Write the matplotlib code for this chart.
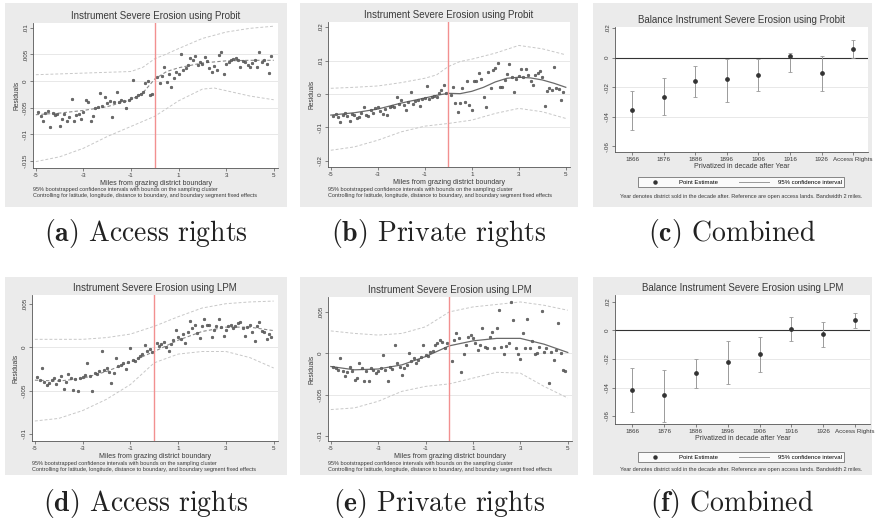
import matplotlib
matplotlib.use("Agg")
import matplotlib.pyplot as plt
from matplotlib.lines import Line2D

plt.rcParams['font.family'] = ['Liberation Sans', 'DejaVu Sans']
plt.rcParams['mathtext.fontset'] = 'cm'

W, H = 877, 526

# ---------------- data ----------------
bin_x = [-4.9, -4.8, -4.7, -4.6, -4.5, -4.4, -4.3, -4.2, -4.1, -4.0, -3.9, -3.8, -3.7, -3.6, -3.5,
         -3.4, -3.3, -3.2, -3.1, -3.0, -2.9, -2.8, -2.7, -2.6, -2.5, -2.4, -2.3, -2.2, -2.1, -2.0,
         -1.9, -1.8, -1.7, -1.6, -1.5, -1.4, -1.3, -1.2, -1.1, -1.0, -0.9, -0.8, -0.7, -0.6, -0.5,
         -0.4, -0.3, -0.2, -0.1, 0.1, 0.2, 0.3, 0.4, 0.5, 0.6, 0.7, 0.8, 0.9, 1.0, 1.1, 1.2, 1.3,
         1.4, 1.5, 1.6, 1.7, 1.8, 1.9, 2.0, 2.1, 2.2, 2.3, 2.4, 2.5, 2.6, 2.7, 2.8, 2.9, 3.0, 3.1,
         3.2, 3.3, 3.4, 3.5, 3.6, 3.7, 3.8, 3.9, 4.0, 4.1, 4.2, 4.3, 4.4, 4.5, 4.6, 4.7, 4.8, 4.9]

a_y = [-0.0058, -0.0066, -0.0075, -0.0059, -0.0056, -0.0087, -0.0060, -0.0064, -0.0061, -0.0085,
       -0.0071, -0.0062, -0.0075, -0.0068, -0.0034, -0.0075, -0.0064, -0.0061, -0.0072, -0.0058,
       -0.0036, -0.0040, -0.0075, -0.0066, -0.0050, -0.0048, -0.0022, -0.0047, -0.0030, -0.0042,
       -0.0038, -0.0068, -0.0040, -0.0020, -0.0040, -0.0036, -0.0037, -0.0050, -0.0035, -0.0032,
       0.0002, -0.0030, -0.0026, -0.0024, -0.0020, -0.0003, 0.0001, -0.0026, -0.0025,
       0.0008, -0.0003, 0.0010, 0.0027, -0.0002, 0.0013, -0.0011, 0.0006, 0.0018, 0.0014,
       0.0051, 0.0020, 0.0024, 0.0030, 0.0044, 0.0040, 0.0047, 0.0030, 0.0036, 0.0033,
       0.0045, 0.0038, 0.0025, 0.0018, 0.0029, 0.0020, 0.0049, 0.0054, 0.0014, 0.0033,
       0.0036, 0.0040, 0.0041, 0.0043, 0.0039, 0.0027, 0.0037, 0.0036, 0.0031, 0.0026,
       0.0034, 0.0039, 0.0027, 0.0054, 0.0035, 0.0040, 0.0032, 0.0016, 0.0048]
a_fit_x = [-5, -4, -3, -2, -1, -0.5, 0, 0.5, 1, 2, 3, 4, 5]
a_fit = [-0.0063, -0.0060, -0.0055, -0.0048, -0.0035, -0.0022, 0.0004, 0.0018, 0.0025, 0.0034, 0.0038, 0.0039, 0.0039]
a_up_x = [-5, -3, -1, -0.5, 0, 0.5, 1, 2, 3, 4, 5]
a_up = [0.0012, 0.0015, 0.0018, 0.0026, 0.0042, 0.0051, 0.0061, 0.0080, 0.0092, 0.0099, 0.0103]
a_lo_x = [-5, -4, -3, -2, -1, 0, 1, 2, 2.5, 3, 4, 5]
a_lo = [-0.0151, -0.0142, -0.0126, -0.0104, -0.0085, -0.0066, -0.0037, -0.0015, -0.0013, -0.0018, -0.0028, -0.0035]

b_y = [-0.0065, -0.0060, -0.0068, -0.0083, -0.0062, -0.0057, -0.0066, -0.0080, -0.0060, -0.0064,
       -0.0071, -0.0068, -0.0058, -0.0038, -0.0062, -0.0066, -0.0048, -0.0056, -0.0042, -0.0040,
       -0.0052, -0.0061, -0.0045, -0.0063, -0.0040, -0.0035, -0.0038, -0.0008, -0.0030, -0.0018,
       -0.0032, -0.0048, -0.0025, 0.0007, -0.0030, -0.0022, -0.0018, -0.0035, -0.0015, -0.0012,
       0.0024, -0.0016, -0.0010, -0.0005, -0.0008, 0.0003, 0.0012, 0.0027, 0.0002,
       -0.0002, 0.0020, -0.0028, -0.0053, -0.0028, 0.0017, -0.0025, 0.0039, -0.0033, -0.0048,
       0.0039, 0.0040, 0.0062, 0.0045, -0.0010, -0.0038, 0.0067, 0.0017, 0.0072, 0.0077,
       0.0092, 0.0021, 0.0020, 0.0042, 0.0060, 0.0090, 0.0050, 0.0007, 0.0045, 0.0055,
       0.0075, 0.0052, 0.0075, 0.0058, 0.0040, 0.0027, 0.0056, 0.0062, 0.0070, 0.0052,
       -0.0036, 0.0010, 0.0017, 0.0012, 0.0082, 0.0019, 0.0015, -0.0018, 0.0007]
b_fit_x = [-5, -4, -3, -2, -1, -0.5, 0, 0.5, 1, 1.5, 2, 2.5, 3, 3.5, 4, 4.5, 5]
b_fit = [-0.0063, -0.0056, -0.0045, -0.0027, -0.0012, -0.0004, 0.0002, 0.0001, 0.0008, 0.0020,
         0.0036, 0.0047, 0.0050, 0.0048, 0.0042, 0.0032, 0.0020]
b_up_x = [-5, -4, -3, -2, -1, -0.5, 0, 0.5, 1, 2, 3, 4, 5]
b_up = [0.0017, 0.0020, 0.0024, 0.0034, 0.0047, 0.0057, 0.0082, 0.0097, 0.0104, 0.0122, 0.0145, 0.0135, 0.0117]
b_lo_x = [-5, -4, -3, -2, -1, 0, 1, 2, 3, 4, 5]
b_lo = [-0.0168, -0.0158, -0.0138, -0.0113, -0.0096, -0.0088, -0.0078, -0.0058, -0.0043, -0.0053, -0.0073]

d_y = [-0.0034, -0.0038, -0.0024, -0.0040, -0.0043, -0.0041, -0.0038, -0.0036, -0.0042, -0.0038,
       -0.0033, -0.0048, -0.0040, -0.0031, -0.0036, -0.0049, -0.0037, -0.0050, -0.0035, -0.0034,
       -0.0032, -0.0018, -0.0033, -0.0050, -0.0030, -0.0031, -0.0028, -0.0005, -0.0026, -0.0024,
       -0.0029, -0.0041, -0.0030, -0.0012, -0.0022, -0.0020, -0.0018, -0.0025, -0.0017, -0.0001,
       -0.0015, -0.0016, -0.0012, -0.0010, -0.0008, 0.0003, -0.0004, -0.0002, -0.0006,
       0.0005, 0.0001, 0.0004, 0.0006, 0.0000, -0.0005, 0.0004, 0.0008, 0.0020, 0.0012,
       0.0009, 0.0015, 0.0005, 0.0018, 0.0030, 0.0022, 0.0026, 0.0016, 0.0011, 0.0024,
       0.0032, 0.0025, 0.0026, 0.0012, 0.0020, 0.0024, 0.0032, 0.0023, 0.0013, 0.0020,
       0.0024, 0.0026, 0.0022, 0.0024, 0.0028, 0.0029, 0.0022, 0.0013, 0.0023, 0.0026,
       0.0018, 0.0007, 0.0024, 0.0029, 0.0019, 0.0018, 0.0009, 0.0015, 0.0012]
d_fit_x = [-5, -4, -3, -2, -1, 0, 1, 2, 3, 4, 5]
d_fit = [-0.0038, -0.0039, -0.0036, -0.0028, -0.0017, -0.0005, 0.0008, 0.0018, 0.0023, 0.0023, 0.0019]
d_up_x = [-5, -3, -2, -1, 0, 1, 2, 3, 4, 5]
d_up = [0.0009, 0.0009, 0.0011, 0.0015, 0.0024, 0.0035, 0.0045, 0.0050, 0.0052, 0.0053]
d_lo_x = [-5, -4, -3, -2, -1, 0, 1, 2, 3, 4, 5]
d_lo = [-0.0085, -0.0082, -0.0073, -0.0060, -0.0043, -0.0018, -0.0008, -0.0005, -0.0005, -0.0012, -0.0024]

e_y = [-0.0016, -0.0018, -0.0020, -0.0006, -0.0022, -0.0028, -0.0023, -0.0016, -0.0022, -0.0032,
       -0.0030, -0.0012, -0.0018, -0.0034, -0.0022, -0.0034, -0.0018, -0.0020, -0.0024, -0.0021,
       -0.0018, -0.0002, -0.0020, -0.0034, -0.0017, -0.0019, 0.0010, -0.0012, -0.0016, -0.0026,
       -0.0018, -0.0014, 0.0000, -0.0009, -0.0006, -0.0012, -0.0008, -0.0005, 0.0010, -0.0002,
       -0.0003, 0.0002, 0.0003, 0.0010, 0.0012, 0.0016, 0.0014, 0.0006, 0.0013,
       -0.0009, 0.0016, 0.0024, 0.0018, -0.0023, -0.0001, 0.0010, 0.0020, 0.0022,
       0.0018, 0.0012, 0.0004, 0.0010, 0.0031, 0.0008, 0.0006, 0.0020,
       0.0026, 0.0006, 0.0031, 0.0052, 0.0008, -0.0001, 0.0009, 0.0012,
       0.0062, 0.0040, 0.0006, -0.0001, -0.0007, 0.0024, 0.0006, 0.0041, 0.0006, 0.0015,
       -0.0001, 0.0000, 0.0008, 0.0051, 0.0002, 0.0006, -0.0036, 0.0002, -0.0008, 0.0004,
       0.0037, 0.0000, -0.0020, -0.0022]
e_fit_x = [-5, -4, -3, -2, -1, 0, 1, 2, 3, 4, 5]
e_fit = [-0.0016, -0.0020, -0.0019, -0.0014, -0.0004, 0.0009, 0.0015, 0.0018, 0.0018, 0.0011, 0.0001]
e_up_x = [-5, -4, -3, -2, -1, 0, 1, 2, 3, 4, 5]
e_up = [0.0027, 0.0024, 0.0022, 0.0024, 0.0032, 0.0050, 0.0056, 0.0059, 0.0062, 0.0058, 0.0052]
e_lo_x = [-5, -4, -3, -2, -1, 0, 1, 2, 3, 4, 5]
e_lo = [-0.0068, -0.0066, -0.0058, -0.0046, -0.0040, -0.0037, -0.0030, -0.0023, -0.0024, -0.0040, -0.0054]

decade_labels = ["1866", "1876", "1886", "1896", "1906", "1916", "1926", "Access Rights"]
c_est = [-0.0355, -0.0265, -0.0160, -0.0148, -0.0115, 0.0010, -0.0108, 0.0060]
c_lo = [-0.0490, -0.0390, -0.0265, -0.0300, -0.0230, -0.0097, -0.0230, 0.0000]
c_hi = [-0.0225, -0.0140, -0.0060, -0.0007, -0.0007, 0.0030, 0.0010, 0.0117]
f_est = [-0.0420, -0.0455, -0.0300, -0.0223, -0.0166, 0.0007, -0.0028, 0.0076]
f_lo = [-0.0575, -0.0639, -0.0400, -0.0375, -0.0290, -0.0076, -0.0115, 0.0016]
f_hi = [-0.0264, -0.0276, -0.0200, -0.0076, -0.0046, 0.0092, 0.0057, 0.0120]

rd_xticks = [-5, -3, -1, 1, 3, 5]
rd_xticklabels = ["-5", "-3", "-1", "1", "3", "5"]
a_yticks = [0.01, 0.005, 0, -0.005, -0.01, -0.015]
a_yticklabels = [".01", ".005", "0", "-.005", "-.01", "-.015"]
b_yticks = [0.02, 0.01, 0, -0.01, -0.02]
b_yticklabels = [".02", ".01", "0", "-.01", "-.02"]
de_yticks = [0.005, 0, -0.005, -0.01]
de_yticklabels = [".005", "0", "-.005", "-.01"]
cf_yticks = [0.02, 0, -0.02, -0.04, -0.06]
cf_yticklabels = [".02", "0", "-.02", "-.04", "-.06"]

title_probit = "Instrument Severe Erosion using Probit"
title_lpm = "Instrument Severe Erosion using LPM"
rd_xlabel = "Miles from grazing district boundary"
rd_note1 = "95% bootstrapped confidence intervals with bounds on the sampling cluster"
rd_note2 = "Controlling for latitude, longitude, distance to boundary, and boundary segment fixed effects"
cf_xlabel = "Privatized in decade after Year"
cf_note = "Year denotes district sold in the decade after. Reference are open access lands. Bandwidth 2 miles."
captions = [r"$\mathbf{(a)}$ Access rights", r"$\mathbf{(b)}$ Private rights", r"$\mathbf{(c)}$ Combined",
            r"$\mathbf{(d)}$ Access rights", r"$\mathbf{(e)}$ Private rights", r"$\mathbf{(f)}$ Combined"]

# ---------------- layout helpers ----------------
fig = plt.figure(figsize=(W / 100, H / 100), dpi=100)
fig.patch.set_facecolor('white')


def fbox(x0, y0, x1, y1):
    return [x0 / W, 1 - y1 / H, (x1 - x0) / W, (y1 - y0) / H]


def panel_bg(x0, y0, x1, y1):
    bg = fig.add_axes(fbox(x0, y0, x1, y1), zorder=-5)
    bg.set_facecolor('#ebebeb')
    bg.set_xticks([])
    bg.set_yticks([])
    for s in bg.spines.values():
        s.set_visible(False)


TXT = '#3a3a3a'
GRID = '#e4e4e4'
NOTE_FS = 4.0


def style_axes(ax, yticks, ylabels, title):
    ax.set_facecolor('white')
    for s in ['top', 'right']:
        ax.spines[s].set_visible(False)
    for s in ['left', 'bottom']:
        ax.spines[s].set_color('#555555')
        ax.spines[s].set_linewidth(0.6)
    ax.set_yticks(yticks)
    ax.set_yticklabels(ylabels, rotation=90, va='center', fontsize=4.5, color=TXT)
    ax.tick_params(axis='both', length=2, width=0.5, color='#555555', pad=1.5)
    ax.tick_params(axis='x', labelsize=4.5, labelcolor=TXT)
    for t in yticks[1:-1]:
        ax.axhline(t, color=GRID, lw=0.6, zorder=0)
    ax.set_title(title, fontsize=7, color=TXT, pad=3)


def rd_panel(box, bg, ys, fx, fy, ux, uy, lx, ly, ylim, yticks, ylabels, title, fitstyle):
    panel_bg(*bg)
    ax = fig.add_axes(fbox(*box))
    style_axes(ax, yticks, ylabels, title)
    ax.set_xlim(-5.12, 5.18)
    ax.set_ylim(*ylim)
    ax.set_xticks(rd_xticks)
    ax.set_xticklabels(rd_xticklabels)
    ax.plot(ux, uy, color='#c8c8c8', lw=0.7, ls=(0, (3, 2)), zorder=2)
    ax.plot(lx, ly, color='#c8c8c8', lw=0.7, ls=(0, (3, 2)), zorder=2)
    if fitstyle == 'dash':
        ax.plot(fx, fy, color='#8a8a8a', lw=0.8, ls=(0, (3, 2)), zorder=3)
    else:
        ax.plot(fx, fy, color='#6a6a6a', lw=0.9, zorder=3)
    ax.scatter(bin_x, ys, s=4, facecolor='#6a6a6a', edgecolor='#444444', linewidth=0.3, zorder=4)
    ax.axvline(0, color='#f29090', lw=1.0, zorder=5)
    ax.set_xlabel(rd_xlabel, fontsize=5, color=TXT, labelpad=1.2)
    ax.set_ylabel("Residuals", fontsize=4.8, color=TXT, labelpad=2)
    return ax


def coef_panel(box, bg, est, lo, hi, ylim, legend_y, note_y, title):
    panel_bg(*bg)
    ax = fig.add_axes(fbox(*box))
    style_axes(ax, cf_yticks, cf_yticklabels, title)
    pos = list(range(len(decade_labels)))
    ax.set_xlim(-0.54, 7.47)
    ax.set_ylim(*ylim)
    ax.set_xticks(pos)
    ax.set_xticklabels(decade_labels, fontsize=4.5)
    ax.axhline(0, color='#333333', lw=0.8, zorder=2)
    yerr = [[e - l for e, l in zip(est, lo)], [h - e for e, h in zip(est, hi)]]
    ax.errorbar(pos, est, yerr=yerr, fmt='o', ms=2.4, mfc='#333333', mec='#333333',
                ecolor='#9a9a9a', elinewidth=0.7, capsize=1.5, capthick=0.6, zorder=3)
    ax.set_xlabel(cf_xlabel, fontsize=5, color=TXT, labelpad=0.5)
    handles = [Line2D([], [], marker='o', ls='none', ms=2.2, color='#333333'),
               Line2D([], [], color='#9a9a9a', lw=0.7)]
    leg = ax.legend(handles, ["Point Estimate", "95% confidence interval"], ncol=2,
                    loc='center', bbox_to_anchor=(741 / W, 1 - legend_y / H),
                    bbox_transform=fig.transFigure, fontsize=4.3, frameon=True,
                    fancybox=False, edgecolor='#555555', handlelength=5, columnspacing=3.5,
                    borderpad=0.45, handletextpad=1.5)
    leg.get_frame().set_linewidth(0.6)
    fig.text(741 / W, 1 - note_y / H, cf_note, fontsize=NOTE_FS, color=TXT, ha='center', va='center')
    return ax


# ---------------- panels ----------------
rd_panel((33, 23, 278, 168), (5, 3, 287, 207), a_y, a_fit_x, a_fit, a_up_x, a_up, a_lo_x, a_lo,
         (-0.0163, 0.0109), a_yticks, a_yticklabels, title_probit, 'dash')
fig.text(33 / W, 1 - 189.5 / H, rd_note1, fontsize=NOTE_FS, color=TXT, va='center')
fig.text(33 / W, 1 - 195 / H, rd_note2, fontsize=NOTE_FS, color=TXT, va='center')

rd_panel((328, 22, 570, 167), (300, 3, 578, 207), b_y, b_fit_x, b_fit, b_up_x, b_up, b_lo_x, b_lo,
         (-0.0218, 0.0215), b_yticks, b_yticklabels, title_probit, 'solid')
fig.text(328 / W, 1 - 189.5 / H, rd_note1, fontsize=NOTE_FS, color=TXT, va='center')
fig.text(328 / W, 1 - 195 / H, rd_note2, fontsize=NOTE_FS, color=TXT, va='center')

coef_panel((615, 27, 868, 152), (593, 3, 872, 207), c_est, c_lo, c_hi, (-0.064, 0.0207), 182, 196,
           "Balance Instrument Severe Erosion using Probit")

rd_panel((32, 295, 278, 441), (5, 277, 287, 475), d_y, d_fit_x, d_fit, d_up_x, d_up, d_lo_x, d_lo,
         (-0.0108, 0.0060), de_yticks, de_yticklabels, title_lpm, 'dash')
fig.text(32 / W, 1 - 463.5 / H, rd_note1, fontsize=NOTE_FS, color=TXT, va='center')
fig.text(32 / W, 1 - 469 / H, rd_note2, fontsize=NOTE_FS, color=TXT, va='center')

rd_panel((328, 297, 572, 441), (300, 277, 578, 475), e_y, e_fit_x, e_fit, e_up_x, e_up, e_lo_x, e_lo,
         (-0.0106, 0.0068), de_yticks, de_yticklabels, title_lpm, 'solid')
fig.text(328 / W, 1 - 463.5 / H, rd_note1, fontsize=NOTE_FS, color=TXT, va='center')
fig.text(328 / W, 1 - 469 / H, rd_note2, fontsize=NOTE_FS, color=TXT, va='center')

coef_panel((615, 295, 870, 424), (593, 277, 872, 475), f_est, f_lo, f_hi, (-0.0656, 0.0249), 457, 469,
           "Balance Instrument Severe Erosion using LPM")

# ---------------- captions ----------------
cap_x = [146, 439, 732, 146, 439, 732]
cap_y = [233, 233, 233, 503, 503, 503]
for cx, cy, txt in zip(cap_x, cap_y, captions):
    fig.text(cx / W, 1 - cy / H, txt, fontsize=20, family='cmr10', color='#222222',
             ha='center', va='center')

fig.savefig("out.png", dpi=100, facecolor='white')
